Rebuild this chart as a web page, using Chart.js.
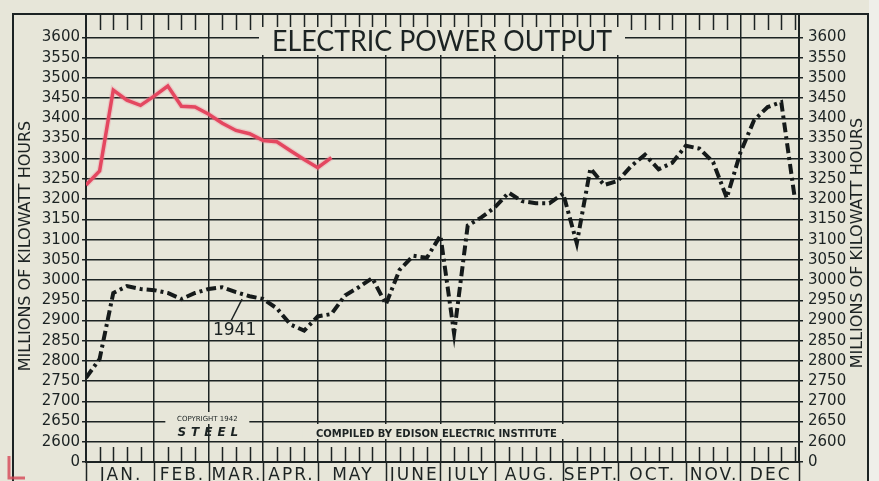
<!DOCTYPE html>
<html>
<head>
<meta charset="utf-8">
<title>Electric Power Output</title>
<script src="https://cdn.jsdelivr.net/npm/chart.js@4.4.1/dist/chart.umd.min.js"></script>
<style>
  html, body { margin: 0; padding: 0; background: #e7e6d9; }
  #wrap { width: 879px; height: 481px; }
</style>
</head>
<body>
<div id="wrap"><canvas id="powerChart" width="879" height="481"></canvas></div>
<script>
// ================= DATA =================
const months = ['JAN.', 'FEB.', 'MAR.', 'APR.', 'MAY', 'JUNE', 'JULY', 'AUG.', 'SEPT.', 'OCT.', 'NOV.', 'DEC'];
const monthStartWeek = [0, 5, 9, 13, 17, 22, 26, 30, 35, 39, 44, 48];
const yearEndWeek = 52.3;

// weekly output, millions of kWh (week 0 = first week of January)
const weeks1941 = [0, 1, 2, 3, 4, 5, 6, 7, 8, 9, 10, 11, 12, 13, 14, 15, 16, 17, 18, 19, 20, 21, 22, 23, 24, 25,
                   26, 27, 28, 29, 30, 31, 32, 33, 34, 35, 36, 37, 38, 39, 40, 41, 42, 43, 44, 45, 46, 47, 48, 49, 50, 51, 52];
const output1941 = [2758, 2805, 2968, 2985, 2978, 2975, 2968, 2953, 2968, 2978, 2982, 2970, 2960, 2953, 2930, 2890,
                    2875, 2910, 2916, 2962, 2982, 3005, 2940, 3025, 3060, 3055, 3110, 2868, 3135, 3155, 3180, 3216,
                    3195, 3190, 3190, 3214, 3091, 3276, 3235, 3245, 3282, 3310, 3274, 3290, 3332, 3325, 3292, 3203,
                    3315, 3395, 3428, 3440, 3200];

const weeks1942 = [0, 1, 2, 3, 4, 5, 6, 7, 8, 9, 10, 11, 12, 13, 14, 15, 16, 17, 18];
const output1942 = [3235, 3270, 3470, 3445, 3432, 3455, 3480, 3430, 3428, 3410, 3388, 3370, 3362, 3345, 3342,
                    3320, 3298, 3278, 3303];

// 2550 is the broken-axis "0" at the bottom
const yTicks = [2550, 2600, 2650, 2700, 2750, 2800, 2850, 2900, 2950, 3000, 3050, 3100, 3150, 3200, 3250,
                3300, 3350, 3400, 3450, 3500, 3550, 3600];

const BG = '#e7e6d9';
const INK = '#1c2323';
const NUM_FONT = 'DejaVu Sans';

const pts = (xs, ys) => xs.map((x, i) => ({ x: x, y: ys[i] }));

// ================= DECORATION PLUGIN =================
const paper = {
    id: 'paper',
    beforeDraw(chart) {
        const ctx = chart.ctx;
        ctx.save();
        ctx.fillStyle = BG;
        ctx.fillRect(0, 0, chart.width, chart.height);
        ctx.fillStyle = '#efefea';
        ctx.fillRect(869, 0, chart.width - 869, chart.height);
        ctx.restore();
    },
    beforeDatasetsDraw(chart) {
        const ctx = chart.ctx;
        const area = chart.chartArea;
        const xs = chart.scales.x;
        const ys = chart.scales.y;
        ctx.save();

        // outer frame
        ctx.strokeStyle = INK;
        ctx.lineWidth = 2;
        ctx.beginPath();
        ctx.moveTo(13, chart.height);
        ctx.lineTo(13, area.top);
        ctx.lineTo(868, area.top);
        ctx.lineTo(868, chart.height);
        ctx.stroke();

        // weekly ticks along top and bottom strips
        ctx.lineWidth = 1.5;
        weeks1941.forEach(w => {
            if (monthStartWeek.includes(w)) return;
            const x = Math.round(xs.getPixelForValue(w)) + 0.5;
            ctx.beginPath();
            ctx.moveTo(x, area.top);
            ctx.lineTo(x, area.top + 16);
            ctx.moveTo(x, area.bottom);
            ctx.lineTo(x, area.bottom - 15);
            ctx.stroke();
        });

        // month strip below the axis
        const bounds = monthStartWeek.concat([yearEndWeek]);
        bounds.forEach(w => {
            const x = Math.round(xs.getPixelForValue(w)) + 0.5;
            ctx.beginPath();
            ctx.moveTo(x, area.bottom);
            ctx.lineTo(x, chart.height);
            ctx.stroke();
        });
        ctx.fillStyle = INK;
        ctx.font = '17px ' + NUM_FONT;
        ctx.textAlign = 'center';
        ctx.textBaseline = 'alphabetic';
        ctx.letterSpacing = '2px';
        months.forEach((m, i) => {
            const mid = (xs.getPixelForValue(bounds[i]) + xs.getPixelForValue(bounds[i + 1])) / 2;
            ctx.fillText(m, mid + 1, 480);
        });
        ctx.letterSpacing = '0px';

        // title box
        ctx.fillStyle = BG;
        ctx.fillRect(259, 27, 366, 28);
        ctx.fillStyle = INK;
        ctx.font = '28px Lato';
        ctx.textAlign = 'center';
        const title = 'ELECTRIC POWER OUTPUT';
        const tw = ctx.measureText(title).width;
        ctx.save();
        ctx.translate(442, 51);
        ctx.scale(340 / tw, 1);
        ctx.fillText(title, 0, 0);
        ctx.restore();

        // copyright / STEEL
        const cx = xs.getPixelForValue(8.9);
        ctx.fillStyle = BG;
        ctx.fillRect(cx - 42, 412, 84, 12);
        ctx.fillStyle = INK;
        ctx.font = '7px ' + NUM_FONT;
        ctx.fillText('COPYRIGHT 1942', cx, 421, 78);
        ctx.font = 'italic bold 12px ' + NUM_FONT;
        ctx.letterSpacing = '5px';
        ctx.fillText('STEEL', cx + 3, 436);
        ctx.letterSpacing = '0px';

        // source line
        const sx = xs.getPixelForValue(25.7);
        ctx.fillStyle = BG;
        ctx.fillRect(sx - 134, 424, 268, 15);
        ctx.fillStyle = INK;
        ctx.font = 'bold 10px ' + NUM_FONT;
        ctx.fillText('COMPILED BY EDISON ELECTRIC INSTITUTE', sx, 437, 262);

        // 1941 label with leader
        ctx.font = '17px ' + NUM_FONT;
        ctx.fillText('1941', xs.getPixelForValue(10.9), ys.getPixelForValue(2863));
        ctx.lineWidth = 1.5;
        ctx.beginPath();
        ctx.moveTo(xs.getPixelForValue(11.45), ys.getPixelForValue(2953));
        ctx.lineTo(xs.getPixelForValue(10.65), ys.getPixelForValue(2900));
        ctx.stroke();

        // rotated axis titles
        ctx.font = '16px ' + NUM_FONT;
        ctx.textBaseline = 'middle';
        [[26, 246, 268], [858, 243, 260]].forEach(([x, y, w]) => {
            ctx.save();
            ctx.translate(x, y);
            ctx.rotate(-Math.PI / 2);
            ctx.fillText('MILLIONS OF KILOWATT HOURS', 0, 0, w);
            ctx.restore();
        });

        // stray red mark in the corner of the scan
        ctx.strokeStyle = 'rgba(214,70,85,0.8)';
        ctx.lineWidth = 3;
        ctx.beginPath();
        ctx.moveTo(9, 456);
        ctx.lineTo(9, 478);
        ctx.lineTo(25, 478);
        ctx.stroke();

        ctx.restore();
    }
};

// ================= CHART =================
const yCommon = {
    type: 'linear',
    min: 2550,
    max: 3658,
    afterBuildTicks: s => { s.ticks = yTicks.map(v => ({ value: v })); },
    border: { display: true, color: INK, width: 2 },
    ticks: {
        color: INK,
        autoSkip: false,
        font: { family: NUM_FONT, size: 15 },
        callback: v => v === 2550 ? '0' : v
    }
};

new Chart(document.getElementById('powerChart'), {
    type: 'line',
    data: {
        datasets: [
            {
                label: '1942 glow',
                data: pts(weeks1942, output1942),
                borderColor: 'rgba(240,140,155,0.3)',
                borderWidth: 6,
                pointRadius: 0,
                tension: 0
            },
            {
                label: '1942',
                data: pts(weeks1942, output1942),
                borderColor: '#e02a47',
                borderWidth: 3.5,
                pointRadius: 0,
                tension: 0
            },
            {
                label: '1941',
                data: pts(weeks1941, output1941),
                borderColor: '#151a1a',
                borderWidth: 4,
                borderDash: [10, 4, 3, 4],
                pointRadius: 0,
                tension: 0
            }
        ]
    },
    options: {
        responsive: false,
        animation: false,
        layout: { padding: { top: 5, left: 0, right: 0, bottom: 0 } },
        plugins: {
            legend: { display: false },
            tooltip: { enabled: false }
        },
        scales: {
            x: {
                type: 'linear',
                min: 0,
                max: yearEndWeek,
                afterBuildTicks: s => { s.ticks = weeks1941.map(w => ({ value: w })); },
                afterFit: s => { s.height = 19; },
                grid: {
                    color: c => monthStartWeek.includes(c.tick.value) ? INK : 'rgba(0,0,0,0)',
                    lineWidth: 1.5,
                    drawTicks: false
                },
                border: { display: true, color: INK, width: 2 },
                ticks: { display: false }
            },
            y: Object.assign({}, yCommon, {
                position: 'left',
                afterFit: s => { s.width = 86; },
                grid: { color: INK, lineWidth: 1.5, tickLength: 4 },
                ticks: Object.assign({}, yCommon.ticks, { padding: 2 })
            }),
            y2: Object.assign({}, yCommon, {
                position: 'right',
                afterFit: s => { s.width = 80; },
                grid: { drawOnChartArea: false, color: INK, lineWidth: 1.5, tickLength: 4 },
                ticks: Object.assign({}, yCommon.ticks, { padding: 5 })
            })
        }
    },
    plugins: [paper]
});
</script>
</body>
</html>
